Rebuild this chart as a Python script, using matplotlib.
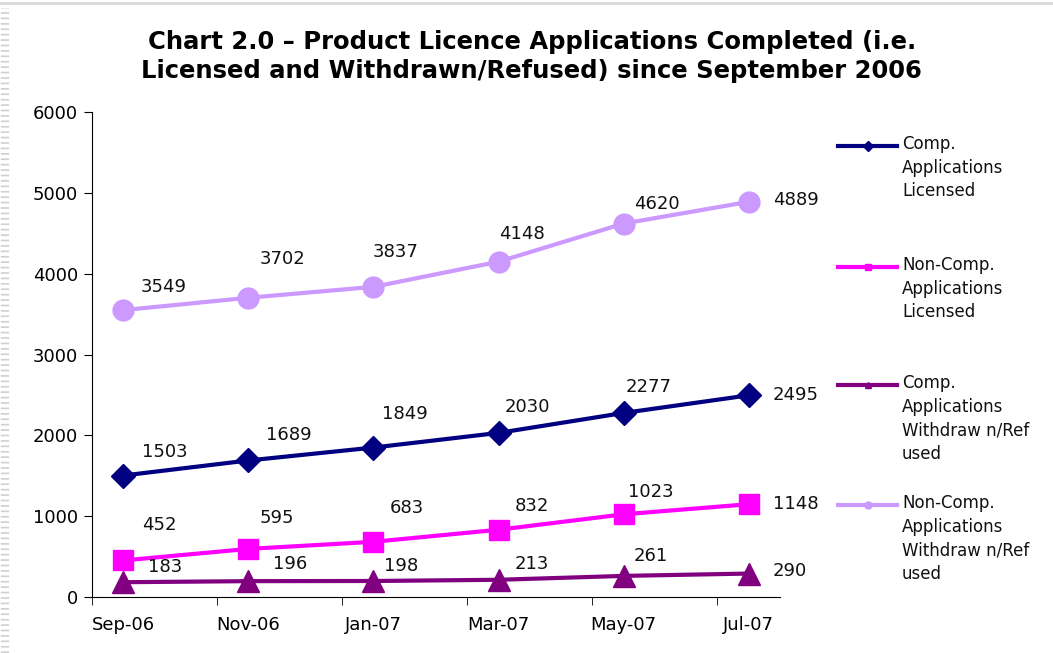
import matplotlib.pyplot as plt
from matplotlib.lines import Line2D

plt.rcParams['font.family'] = ['DejaVu Sans']

months = ['Sep-06', 'Nov-06', 'Jan-07', 'Mar-07', 'May-07', 'Jul-07']
comp_licensed = [1503, 1689, 1849, 2030, 2277, 2495]
noncomp_licensed = [452, 595, 683, 832, 1023, 1148]
comp_withdrawn = [183, 196, 198, 213, 261, 290]
noncomp_withdrawn = [3549, 3702, 3837, 4148, 4620, 4889]

series_names = ['Comp.\nApplications\nLicensed',
                'Non-Comp.\nApplications\nLicensed',
                'Comp.\nApplications\nWithdraw n/Ref\nused',
                'Non-Comp.\nApplications\nWithdraw n/Ref\nused']

# label offsets in pixels (right, up); last point is left-aligned
off_cl = [(42, 24), (40, 25), (31, 34), (29, 26), (25, 26), (24, 0)]
off_nl = [(36, 35), (28, 31), (33, 34), (33, 24), (27, 22), (24, 0)]
off_cw = [(42, 15), (42, 17), (28, 15), (33, 16), (27, 20), (24, 3)]
off_nw = [(40, 23), (34, 39), (22, 35), (23, 28), (33, 20), (24, 2)]

fig = plt.figure(figsize=(10.53, 6.53), dpi=100)
ax = fig.add_axes([92 / 1053, 56 / 653, 688 / 1053, 485 / 653])

x = list(range(len(months)))
series = [
    (comp_licensed, '#000080', 'D', 12, off_cl),
    (noncomp_licensed, '#FF00FF', 's', 15, off_nl),
    (comp_withdrawn, '#800080', '^', 16, off_cw),
    (noncomp_withdrawn, '#CC99FF', 'o', 15, off_nw),
]
for vals, col, mk, ms, offs in series:
    ax.plot(x, vals, color=col, lw=3, marker=mk, markersize=ms, zorder=3)
    for xi, v, (dx, dy) in zip(x, vals, offs):
        ha = 'left' if xi == len(x) - 1 else 'center'
        ax.annotate(str(v), (xi, v), xytext=(dx * 0.72, dy * 0.72),
                    textcoords='offset points', ha=ha, va='center',
                    fontsize=13, color='#111111')

ax.set_xlim(-0.25, 5.25)
ax.set_ylim(0, 6000)
ax.set_yticks(range(0, 6001, 1000))
ax.set_xticks(x)
ax.set_xticklabels(months, fontsize=13)
ax.tick_params(axis='x', length=0, pad=14)
ax.set_xticks([i - 0.25 for i in range(6)], minor=True)
ax.tick_params(axis='x', which='minor', length=6, direction='out')
ax.tick_params(axis='y', labelsize=13, length=6, pad=4)
ax.spines['top'].set_visible(False)
ax.spines['right'].set_visible(False)

fig.text(0.505, 0.913, 'Chart 2.0 – Product Licence Applications Completed (i.e.\n'
         'Licensed and Withdrawn/Refused) since September 2006',
         ha='center', va='center', fontsize=17.5, fontweight='bold',
         linespacing=1.25)

# legend drawn by hand to keep the fixed spacing
legend_y = [146, 267, 385, 505]
for (vals, col, mk, ms, offs), name, ly in zip(series, series_names, legend_y):
    yf = 1 - ly / 653
    fig.add_artist(Line2D([838 / 1053, 897 / 1053], [yf, yf], transform=fig.transFigure,
                          color=col, lw=3))
    fig.add_artist(Line2D([868 / 1053], [yf], transform=fig.transFigure,
                          color=col, marker=mk, markersize=5))
    fig.text(902 / 1053, yf + 11 / 653, name, ha='left', va='top', fontsize=12,
             linespacing=1.4, color='#111111')

# page border decorations
fig.add_artist(Line2D([0, 1], [1 - 3 / 653, 1 - 3 / 653], transform=fig.transFigure,
                      color='#d9d9d9', lw=2))
fig.add_artist(Line2D([5 / 1053, 5 / 1053], [0, 1 - 8 / 653], transform=fig.transFigure,
                      color='#d0d0d0', lw=6, dashes=(0.2, 0.45)))

fig.savefig('out.png', dpi=100)
